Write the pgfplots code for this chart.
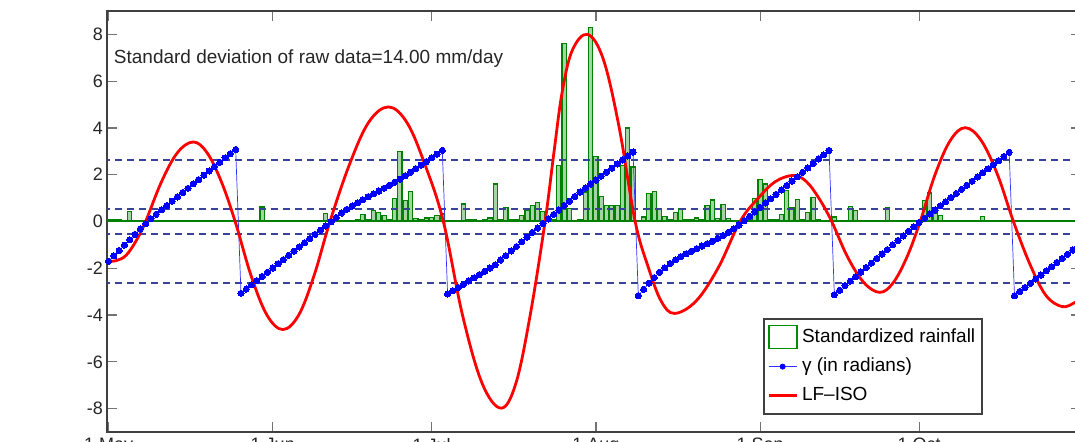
\documentclass[border=0pt]{standalone}
\usepackage{fontspec}
\setmainfont{Liberation Sans}
\usepackage{pgfplots}
\usepackage{pgfplotstable}
\pgfplotsset{compat=1.18}
\definecolor{bargreen}{rgb}{0,0.5,0}
\definecolor{barfill}{rgb}{0.58,0.8,0.58}
\definecolor{dashblue}{rgb}{0.22,0.26,0.6}

\pgfplotstableread{
day val
0 0.08
1 0.10
2 0.08
4 0.44
29 0.62
41 0.34
47 0.06
48 0.31
49 0.08
50 0.48
51 0.40
52 0.26
53 0.06
54 1.00
55 3.00
56 0.90
57 1.27
58 0.12
59 0.10
60 0.15
61 0.18
62 0.26
63 0.32
64 0.05
65 0.05
67 0.75
68 0.10
69 0.08
70 0.05
71 0.08
72 0.15
73 1.60
74 0.10
75 0.60
76 0.10
77 0.10
78 0.25
79 0.47
80 0.70
81 0.80
82 0.44
83 0.05
84 0.10
85 2.40
86 7.60
87 0.54
88 0.05
89 0.10
90 1.26
91 8.30
92 2.78
93 1.08
94 0.69
95 0.69
96 0.69
97 2.38
98 4.00
99 2.33
100 0.05
101 0.19
102 1.20
103 1.28
104 0.54
105 0.20
106 0.10
107 0.40
108 0.54
109 0.08
110 0.08
111 0.15
112 0.10
113 0.70
114 0.92
115 0.12
116 0.72
117 0.12
118 0.05
119 0.05
120 0.05
121 0.15
122 0.97
123 1.80
124 1.60
125 0.10
126 0.10
127 0.30
128 1.33
129 0.60
130 0.93
131 0.10
132 0.37
133 1.02
134 0.10
135 0.05
137 0.19
140 0.64
141 0.47
147 0.60
154 0.90
155 1.22
156 0.33
157 0.26
165 0.22
}\raintable

\pgfplotstableread{
day val
0 -1.70
1 -1.47
2 -1.24
3 -1.01
4 -0.78
5 -0.55
6 -0.32
7 -0.09
8 0.12
9 0.31
10 0.50
11 0.68
12 0.87
13 1.05
14 1.24
15 1.42
16 1.61
17 1.79
18 1.98
19 2.16
20 2.35
21 2.53
22 2.72
23 2.90
24 3.08
25 -3.07
26 -2.89
27 -2.71
28 -2.53
29 -2.35
30 -2.17
31 -1.99
32 -1.81
33 -1.63
34 -1.45
35 -1.27
36 -1.09
37 -0.91
38 -0.73
39 -0.55
40 -0.37
41 -0.19
42 -0.01
43 0.17
44 0.36
45 0.52
46 0.66
47 0.80
48 0.93
49 1.06
50 1.18
51 1.30
52 1.42
53 1.55
54 1.68
55 1.81
56 1.96
57 2.11
58 2.26
59 2.41
60 2.56
61 2.72
62 2.88
63 3.04
64 -3.10
65 -2.96
66 -2.82
67 -2.68
68 -2.54
69 -2.41
70 -2.27
71 -2.13
72 -1.99
73 -1.85
74 -1.65
75 -1.46
76 -1.26
77 -1.07
78 -0.87
79 -0.67
80 -0.47
81 -0.28
82 -0.08
83 0.11
84 0.30
85 0.49
86 0.68
87 0.87
88 1.07
89 1.26
90 1.43
91 1.60
92 1.77
93 1.94
94 2.11
95 2.28
96 2.46
97 2.63
98 2.80
99 2.97
100 -3.17
101 -2.90
102 -2.64
103 -2.40
104 -2.17
105 -1.98
106 -1.80
107 -1.64
108 -1.50
109 -1.38
110 -1.27
111 -1.16
112 -1.05
113 -0.95
114 -0.84
115 -0.72
116 -0.60
117 -0.46
118 -0.31
119 -0.15
120 0.03
121 0.22
122 0.41
123 0.60
124 0.79
125 0.97
126 1.16
127 1.35
128 1.54
129 1.73
130 1.91
131 2.10
132 2.29
133 2.48
134 2.67
135 2.85
136 3.04
137 -3.13
138 -2.94
139 -2.74
140 -2.55
141 -2.36
142 -2.16
143 -1.97
144 -1.78
145 -1.58
146 -1.39
147 -1.20
148 -1.00
149 -0.81
150 -0.62
151 -0.42
152 -0.23
153 -0.04
154 0.14
155 0.32
156 0.49
157 0.67
158 0.84
159 1.02
160 1.20
161 1.37
162 1.55
163 1.72
164 1.90
165 2.08
166 2.25
167 2.43
168 2.60
169 2.78
170 2.96
171 -3.17
172 -2.99
173 -2.82
174 -2.64
175 -2.46
176 -2.29
177 -2.11
178 -1.93
179 -1.75
180 -1.58
181 -1.40
182 -1.22
183 -1.05
}\gammatable

\pgfplotstableread{
day val
0 -1.70
1.5 -1.67
3.3 -1.45
5.2 -0.83
7 0.00
10 1.70
13 2.94
16 3.40
18.6 2.94
21.3 1.70
23.9 0.00
26.9 -2.31
29.9 -4.00
32.9 -4.62
35.9 -4.00
38.8 -2.31
41.8 0.00
45.5 2.45
49.1 4.24
52.8 4.90
56.3 4.24
59.7 2.45
63.2 0.00
66.8 -3.99
70.5 -6.91
74.1 -7.98
76.9 -6.91
79.6 -3.99
82.4 0.00
84.1 3.00
85.6 5.50
87.5 7.30
90.4 8.00
93.4 6.93
96.4 4.00
99.4 0.00
101.9 -1.97
104.3 -3.40
106.8 -3.93
110.9 -3.40
115.1 -1.97
119.2 0.00
122.6 0.99
125.9 1.71
129.3 1.97
131.7 1.71
134.1 0.99
136.5 0.00
139.5 -1.52
142.6 -2.62
145.6 -3.03
148.1 -2.62
150.7 -1.52
153.2 0.00
156.0 2.00
158.9 3.47
161.7 4.01
164.7 3.47
167.8 2.00
170.8 0.00
173.9 -1.82
176.9 -3.15
180 -3.64
182.5 -3.45
184 -3.20
}\lftable

\begin{document}
\begin{tikzpicture}
\begin{axis}[
  scale only axis,
  width=486.75pt, height=210.5pt,
  xmin=-0.25, xmax=183.5,
  ymin=-9, ymax=9,
  axis line style={black!75, line width=1pt},
  tick align=inside,
  tick pos=both,
  major tick length=5pt,
  tick style={black!55, line width=0.6pt},
  xtick={0,31,61,92,123,153},
  xticklabels={1 May,1 Jun,1 Jul,1 Aug,1 Sep,1 Oct},
  ytick={-8,-6,-4,-2,0,2,4,6,8},
  yticklabels={-8,-6,-4,-2,0,2,4,6,8},
  ticklabel style={font=\fontsize{9}{10}\selectfont, text=black!85},
  yticklabel style={inner xsep=2pt},
  xticklabel style={inner ysep=3pt},
  legend style={
    at={(rel axis cs:0.674,0.27)}, anchor=north west,
    draw=black!75, line width=0.9pt, fill=white,
    font=\fontsize{9.5}{11}\selectfont,
    inner xsep=1.5pt, inner ysep=1.8pt,
    nodes={inner ysep=2.8pt, inner xsep=2pt, text height=7pt, text depth=2pt},
    row sep=0pt,
  },
  legend cell align=left,
]
\addplot[ybar, bar width=0.8, bar shift=0pt, draw=bargreen, fill=barfill, fill opacity=0.85, line width=0.6pt,
  legend image code/.code={\draw[draw=green!55!black, fill=white, line width=0.9pt] (0pt,-5.5pt) rectangle (14pt,6pt);}]
  table[x=day, y=val] {\raintable};
\addlegendentry{Standardized rainfall}
\addplot[forget plot, color=bargreen, line width=1pt] coordinates {(-1,0) (185,0)};
\addplot[forget plot, dashblue, dashed, dash pattern=on 3.5pt off 2.5pt, line width=0.8pt] coordinates {(-1,2.618) (185,2.618)};
\addplot[forget plot, dashblue, dashed, dash pattern=on 3.5pt off 2.5pt, line width=0.8pt] coordinates {(-1,0.524) (185,0.524)};
\addplot[forget plot, dashblue, dashed, dash pattern=on 3.5pt off 2.5pt, line width=0.8pt] coordinates {(-1,-0.524) (185,-0.524)};
\addplot[forget plot, dashblue, dashed, dash pattern=on 3.5pt off 2.5pt, line width=0.8pt] coordinates {(-1,-2.618) (185,-2.618)};
\addplot[color=blue!80, line width=0.35pt, mark=*, mark size=1.55pt, mark options={draw=blue, fill=blue, line width=0pt},
  legend image code/.code={\draw[blue!80, line width=0.4pt] (0pt,0pt) -- (14pt,0pt); \fill[blue] (7pt,0pt) circle (1.3pt);}]
  table[x=day, y=val] {\gammatable};
\addlegendentry{γ (in radians)}
\addplot[color=red, line width=1.4pt, smooth, tension=0.6,
  legend image code/.code={\draw[red, line width=1.4pt] (0pt,0pt) -- (14pt,0pt);}]
  table[x=day, y=val] {\lftable};
\addlegendentry{LF–ISO}
\node[anchor=west, inner sep=0pt, font=\fontsize{9.5}{11}\selectfont, text=black!85] at (axis cs:0.95,6.98) {Standard deviation of raw data=14.00 mm/day};
\end{axis}
\pgfresetboundingbox
\useasboundingbox (-53.6pt,-5pt) rectangle (483.9pt,216pt);
\end{tikzpicture}
\end{document}
